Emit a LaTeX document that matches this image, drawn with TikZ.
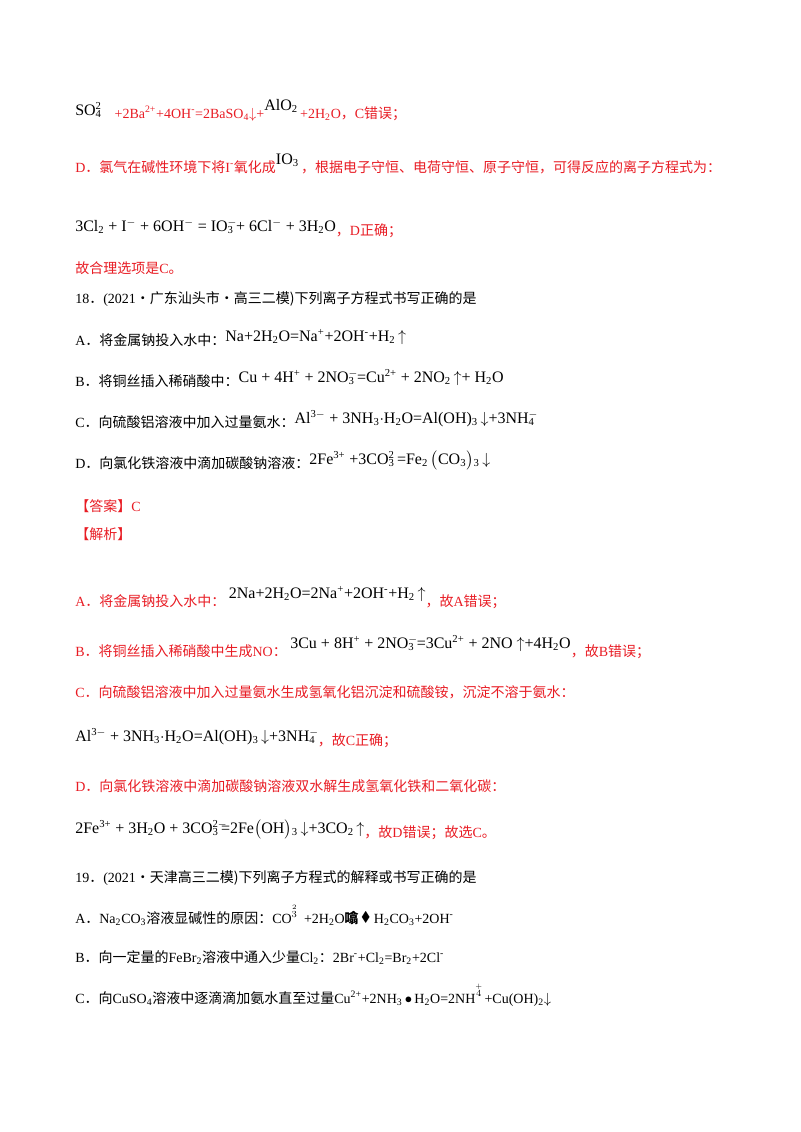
\documentclass[tikz,border=0pt]{standalone}
\usepackage{amsmath,amssymb}
\usepackage{fontspec}
\setmainfont{Liberation Serif}
\newfontfamily\cjk{Noto Sans CJK SC}
\newcommand{\lo}[1]{\textsubscript{#1}}
\newcommand{\hi}[1]{\textsuperscript{#1}}
\newcommand{\ssb}[2]{\rlap{\textsuperscript{#1}}\textsubscript{#2}\kern0.15em}
\newcommand{\ud}{$\downarrow$}
\newcommand{\uu}{$\uparrow$}
\newcommand{\bk}[1]{\raisebox{3pt}{\color{black}\fontsize{12}{14}\selectfont #1}}
\definecolor{ansred}{RGB}{232,28,36}
\begin{document}
\begin{tikzpicture}[x=0.75pt,y=-0.75pt,
  t/.style={anchor=base west,inner sep=0pt,font=\fontsize{10.5}{12}\selectfont},
  r/.style={t,text=ansred},
  eq/.style={t,font=\fontsize{12}{14}\selectfont}]
\useasboundingbox (0,0) rectangle (800,1132);
\node[r] (l1) at (75,118) {\raisebox{2pt}{\color{black}\fontsize{12}{14}\selectfont SO\ssb{2}{4}}\ \ \ +2Ba\hi{2+}+4OH\hi{-}=2BaSO\lo{4}\ud+\raisebox{6pt}{\color{black}\fontsize{12}{14}\selectfont AlO\lo{2}}\,+2H\lo{2}O{\cjk，}C{\cjk 错误；}};
\node[r] (l2) at (75,172) {D{\cjk．氯气在碱性环境下将}I\hi{-}{\cjk 氧化成}\raisebox{6pt}{\color{black}\fontsize{12}{14}\selectfont IO\lo{3}}\,{\cjk，根据电子守恒、电荷守恒、原子守恒，可得反应的离子方程式为：}};
\node[r] (l3) at (75,235) {\bk{3Cl\lo{2} + I\hi{$-$} + 6OH\hi{$-$} = IO\ssb{$-$}{3} + 6Cl\hi{$-$} + 3H\lo{2}O}{\cjk，}D{\cjk 正确；}};
\node[r] (l4) at (75,273) {{\cjk 故合理选项是}C{\cjk 。}};
\node[t] (q18) at (75,303) {18{\cjk．}(2021{\cjk·广东汕头市·高三二模)下列离子方程式书写正确的是}};
\node[t] (qa) at (75,345) {A{\cjk．将金属钠投入水中：}\bk{Na+2H\lo{2}O=Na\hi{+}+2OH\hi{-}+H\lo{2}\,\uu}};
\node[t] (qb) at (75,386) {B{\cjk．将铜丝插入稀硝酸中：}\bk{Cu + 4H\hi{+} + 2NO\ssb{$-$}{3}=Cu\hi{2+} + 2NO\lo{2}\,\uu + H\lo{2}O}};
\node[t] (qc) at (75,427) {C{\cjk．向硫酸铝溶液中加入过量氨水：}\bk{Al\hi{3$-$} + 3NH\lo{3}$\cdot$H\lo{2}O=Al(OH)\lo{3}\,\ud +3NH\ssb{$-$}{4}}};
\node[t] (qd) at (75,468) {D{\cjk．向氯化铁溶液中滴加碳酸钠溶液：}\bk{2Fe\hi{3+} +3CO\ssb{2}{3} =Fe\lo{2}\,$\bigl($CO\lo{3}$\bigr)$\lo{3}\,\ud}};
\node[r] (ans) at (75,511) {{\cjk 【答案】}C};
\node[r] (jx) at (75,539) {\cjk 【解析】};
\node[r] (ja) at (75,606) {A{\cjk．将金属钠投入水中：}\ \raisebox{6pt}{\color{black}\fontsize{12}{14}\selectfont 2Na+2H\lo{2}O=2Na\hi{+}+2OH\hi{-}+H\lo{2}\,\uu}{\cjk，故}A{\cjk 错误；}};
\node[r] (jb) at (75,656) {B{\cjk．将铜丝插入稀硝酸中生成}NO{\cjk：}\ \raisebox{6pt}{\color{black}\fontsize{12}{14}\selectfont 3Cu + 8H\hi{+} + 2NO\ssb{$-$}{3}=3Cu\hi{2+} + 2NO\ \uu +4H\lo{2}O}{\cjk，故}B{\cjk 错误；}};
\node[r] (jc) at (75,697) {C{\cjk．向硫酸铝溶液中加入过量氨水生成氢氧化铝沉淀和硫酸铵，沉淀不溶于氨水：}};
\node[r] (jce) at (75,745) {\bk{Al\hi{3$-$} + 3NH\lo{3}$\cdot$H\lo{2}O=Al(OH)\lo{3}\,\ud +3NH\ssb{$-$}{4}}{\cjk，故}C{\cjk 正确；}};
\node[r] (jd) at (75,791) {D{\cjk．向氯化铁溶液中滴加碳酸钠溶液双水解生成氢氧化铁和二氧化碳：}};
\node[r] (jde) at (75,837) {\bk{2Fe\hi{3+} + 3H\lo{2}O + 3CO\ssb{2$-$}{3}=2Fe$\bigl($OH$\bigr)$\lo{3}\,\ud +3CO\lo{2}\,\uu}{\cjk，故}D{\cjk 错误；故选}C{\cjk 。}};
\node[t] (q19) at (75,882) {19{\cjk．}(2021{\cjk·天津高三二模)下列离子方程式的解释或书写正确的是}};
\node[t] (q19a) at (75,923) {A{\cjk．}Na\lo{2}CO\lo{3}{\cjk 溶液显碱性的原因：}CO\raisebox{0.9ex}{\scriptsize$\overset{2}{3}$}\ \ +2H\lo{2}O{\cjk\bfseries 噏}\,\raisebox{0.2ex}{$\blacklozenge$}\ H\lo{2}CO\lo{3}+2OH\hi{-}};
\node[t] (q19b) at (75,962) {B{\cjk．向一定量的}FeBr\lo{2}{\cjk 溶液中通入少量}Cl\lo{2}{\cjk：}2Br\hi{-}+Cl\lo{2}=Br\lo{2}+2Cl\hi{-}};
\node[t] (q19c) at (75,1003) {C{\cjk．向}CuSO\lo{4}{\cjk 溶液中逐滴滴加氨水直至过量}Cu\hi{2+}+2NH\lo{3}\,$\bullet$\,H\lo{2}O=2NH\raisebox{1ex}{\scriptsize$\overset{+}{4}$}\,+Cu(OH)\lo{2}\ud};
\end{tikzpicture}
\end{document}
